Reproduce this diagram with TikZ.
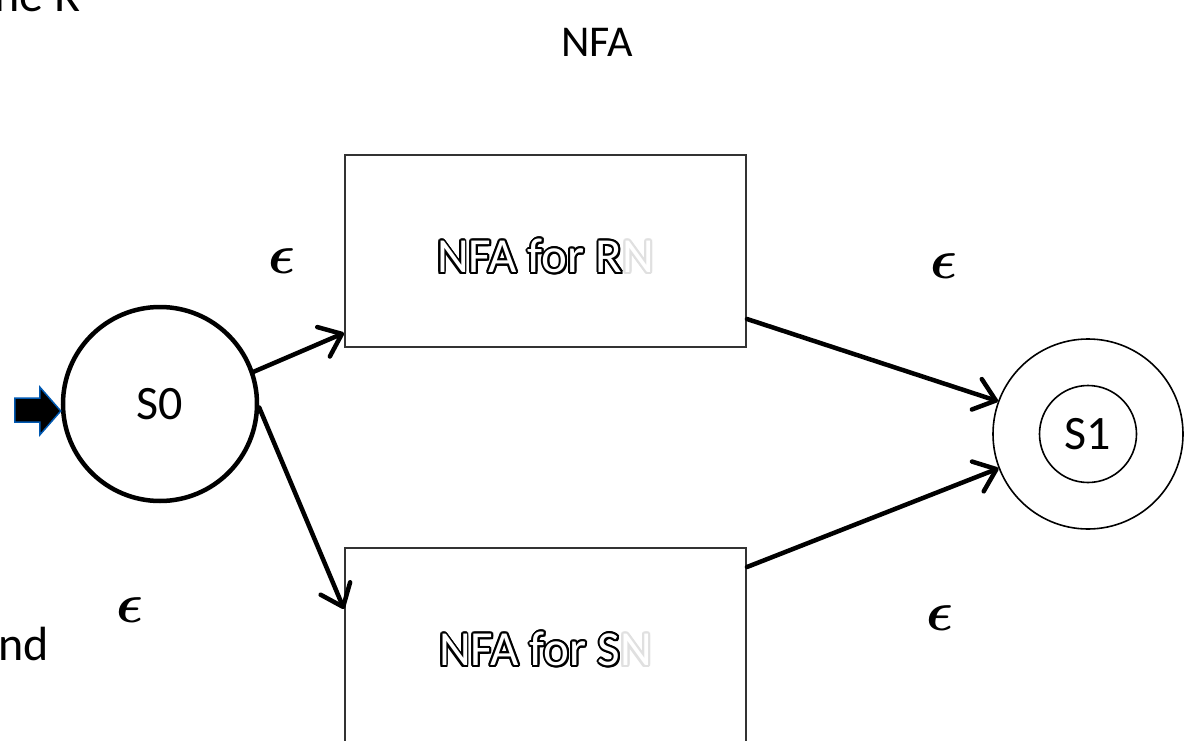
\RequirePackage{fix-cm}
\documentclass[tikz,border=0pt]{standalone}
\usepackage{fontspec}
\setmainfont{Carlito}
\usepackage{contour}
\usetikzlibrary{arrows.meta,calc}
\contourlength{1.9pt}
\tikzset{
  state/.style={circle, draw=black, inner sep=0pt},
  nfabox/.style={rectangle, draw=black!80, line width=2pt, fill=white, inner sep=0pt,
    minimum width=401pt, minimum height=192pt},
  boxlabel/.style={font=\fontsize{49}{54}\selectfont},
  trans/.style={line width=4.5pt, line cap=round, line join=round,
    -{Straight Barb[length=20pt,width=32pt,line cap=round,line join=round]}},
  eps/.style={font=\fontsize{56}{60}\selectfont\boldmath},
  frag/.style={font=\fontsize{48}{54}\selectfont, anchor=base west, inner sep=0pt},
  startarrow/.style={fill=black, draw=blue!50!cyan!70!black, line width=1.5pt, line join=miter}
}
\newcommand{\hollow}[1]{\contour{black}{\textcolor{white}{#1}}}
\newcommand{\ghost}[1]{\contour{black!12}{\textcolor{white}{#1}}}
\begin{document}
\begin{tikzpicture}[x=1pt,y=-1pt]
\useasboundingbox (0,0) rectangle (1189,741);
\clip (0,0) rectangle (1189,741);
\fill[white] (0,0) rectangle (1189,741);

% cropped text fragments at the left edge
\node[frag] (fragtop) at (-6,12) {ne R};
\node[frag] (fragmid) at (-2,660) {nd};

% title
\node[font=\fontsize{44}{50}\selectfont] (title) at (597,42) {NFA};

% states
\node[state, line width=4.5pt, minimum size=194pt, font=\fontsize{48}{52}\selectfont] (S0) at (160,404) {S0};
\node[state, line width=1.6pt, minimum size=190pt] (S1o) at (1088,434) {};
\node[state, line width=1.6pt, minimum size=97pt, font=\fontsize{48}{52}\selectfont] (S1) at (1088,434) {S1};

% boxes
\node[nfabox] (R) at (545.5,251) {};
\node[boxlabel] (Rlabel) at (545.5,257) {\hollow{NFA for R}\ghost{N}};
\node[nfabox, minimum height=210pt] (S) at (545.5,653) {};
\node[boxlabel] (Slabel) at (545.5,650) {\hollow{NFA for S}\ghost{N}};

% start arrow
\draw[startarrow] ([yshift=-7pt]S0.west) coordinate (tipS0) -- ++(-21,-24) -- ++(0,11) -- ++(-25,0)
  -- ++(0,24) -- ++(25,0) -- ++(0,13) -- cycle;

% transitions
\draw[trans] (S0.19) -- ([yshift=15pt]R.south west);
\draw[trans] (S0.-2) -- ([yshift=-62pt]S.north west);
\draw[trans] ([yshift=29pt]R.south east) -- (S1o.160);
\draw[trans] ([yshift=-20pt]S.north east) -- (S1o.201);

% epsilon labels
\node[eps] (e1) at (282,261) {$\epsilon$};
\node[eps] (e2) at (944,266) {$\epsilon$};
\node[eps] (e3) at (130,610) {$\epsilon$};
\node[eps] (e4) at (940,618) {$\epsilon$};
\end{tikzpicture}
\end{document}
